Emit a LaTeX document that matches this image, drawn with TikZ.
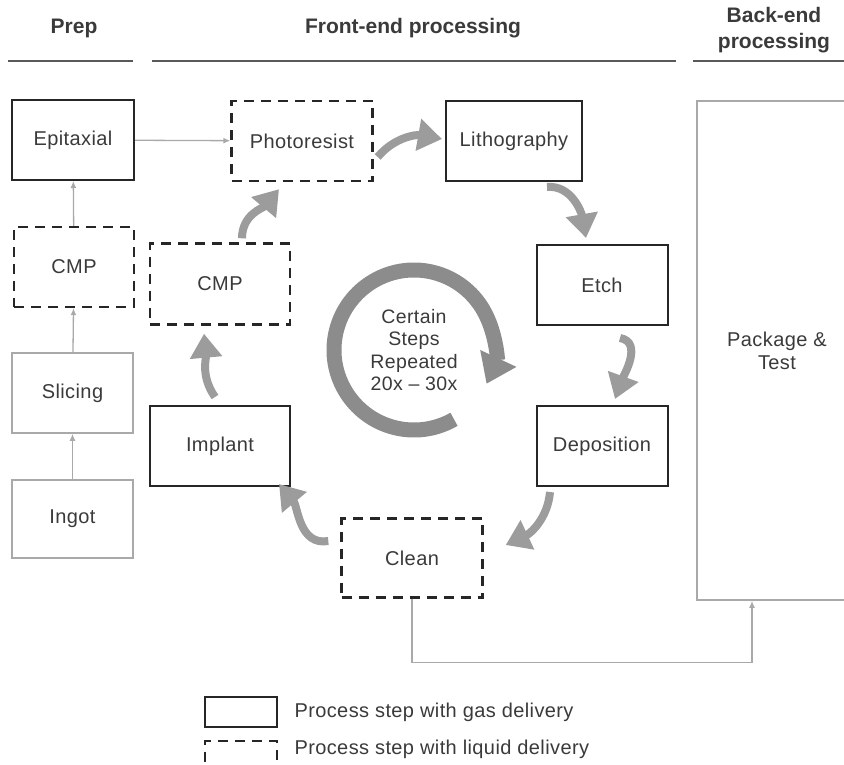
\documentclass[tikz,border=0pt]{standalone}
\usepackage{fontspec}
\setmainfont{Liberation Sans}
\usetikzlibrary{arrows.meta,calc}
\definecolor{boxdark}{HTML}{262626}
\definecolor{linegray}{HTML}{a9a9a9}
\definecolor{swooshgray}{HTML}{9c9c9c}
\definecolor{ringgray}{HTML}{8c8c8c}
\definecolor{textgray}{HTML}{3a3a3a}
\definecolor{rulegray}{HTML}{5a5a5a}

\begin{document}
\begin{tikzpicture}[x=1pt,y=1pt,
    gas/.style={draw=boxdark, line width=2pt, minimum width=140pt, minimum height=80pt,
      text=textgray, font=\fontsize{20}{23}\selectfont\addfontfeatures{LetterSpace=2}, align=center},
    liquid/.style={gas, dash pattern=on 10pt off 7pt, line width=2.4pt},
    plainbox/.style={gas, draw=linegray, line width=1.5pt},
    flow/.style={draw=linegray, line width=1.3pt, -{Latex[length=7pt,width=6pt]}},
    swoosh/.style={draw=swooshgray, line width=8pt, -{Triangle[length=24pt,width=31pt]}},
    headtext/.style={text=textgray, font=\bfseries\fontsize{21}{26}\selectfont, align=center},
    keytext/.style={text=textgray, font=\fontsize{20}{23}\selectfont\addfontfeatures{LetterSpace=2}, anchor=west}]
  \useasboundingbox (0,0) rectangle (844,-765);
  \clip (0,0) rectangle (844,-765);

  % Column headings and rules
  \node[headtext] (prephead) at (74,-28) {Prep};
  \node[headtext] (fronthead) at (413,-28) {Front-end processing};
  \node[headtext] (backhead) at (774,-30) {Back-end\\processing};
  \draw[rulegray, line width=2.5pt] (8,-61) -- (133,-61);
  \draw[rulegray, line width=2.5pt] (152,-61) -- (676,-61);
  \draw[rulegray, line width=2.5pt] (693,-61) -- (850,-61);

  % Prep column
  \node[gas, minimum width=122pt] (epi) at (73,-140) {Epitaxial};
  \node[liquid, minimum width=120pt] (cmpA) at (74,-267) {CMP};
  \node[plainbox, minimum width=121pt] (slice) at (72.5,-393) {Slicing};
  \node[plainbox, minimum width=121pt, minimum height=78pt] (ingot) at (72.5,-519) {Ingot};
  \draw[flow] (ingot) -- (slice);
  \draw[flow] (slice) -- (cmpA);
  \draw[flow] (cmpA) -- (epi);

  % Front-end loop
  \node[liquid, minimum width=141pt] (photo) at (302,-141) {Photoresist};
  \node[gas, minimum width=136pt] (litho) at (514,-141) {Lithography};
  \node[gas, minimum width=131pt] (etch) at (602,-285) {Etch};
  \node[gas, minimum width=131pt] (depo) at (602,-446) {Deposition};
  \node[liquid, minimum width=141pt, minimum height=79pt] (clean) at (412,-558) {Clean};
  \node[gas, minimum width=140pt] (implant) at (220,-446) {Implant};
  \node[liquid, minimum width=140pt, minimum height=81pt] (cmpB) at (220,-284) {CMP};
  \draw[flow] (epi) -- (photo);

  % Curved arrows between the steps
  \draw[swoosh] ([shift={(4,-16)}]photo.east) to[out=50, in=170] ([shift={(-3,2)}]litho.west);
  \draw[swoosh] ([shift={(33,-5)}]litho.south) to[out=5, in=100] ([shift={(-16,6)}]etch.north);
  \draw[swoosh] ([shift={(18,-12)}]etch.south) to[out=-10, in=70] ([shift={(13,6)}]depo.north);
  \draw[swoosh] ([shift={(-52,-5)}]depo.south) to[out=-95, in=25] ([shift={(22,13)}]clean.east);
  \draw[swoosh] ([shift={(-12,17)}]clean.west) to[out=190, in=-50] ([shift={(-12,3)}]implant.south east);
  \draw[swoosh] ([shift={(-5,8)}]implant.north) to[out=125, in=-85] ([shift={(-16,-8)}]cmpB.south);
  \draw[swoosh] ([shift={(22,4)}]cmpB.north) to[out=90, in=-130] ([shift={(-23,-7)}]photo.south);

  % Repeat ring
  \coordinate (ringc) at (414,-350);
  \draw[ringgray, line width=15pt, -{Triangle[length=28pt,width=38pt]}]
    ($(ringc)+(-60:80)$) arc[start angle=-60, end angle=-385, radius=80];
  \node[text=textgray, font=\fontsize{19.5}{22.5}\selectfont\addfontfeatures{LetterSpace=2}, align=center] (ringtext) at (ringc) {Certain\\Steps\\Repeated\\20x -- 30x};

  % Back-end
  \node[plainbox, minimum width=160pt, minimum height=499pt] (pack) at (777,-350.5) {Package \&\\Test};
  \draw[flow] (clean.south) -- ++(0,-64) -| ([xshift=-25pt]pack.south);

  % Key
  \node[gas, minimum width=72pt, minimum height=30pt] (keygas) at (241,-712) {};
  \node[keytext] (keygastext) at (291,-712) {Process step with gas delivery};
  \node[liquid, minimum width=72pt, minimum height=32pt] (keyliquid) at (241,-757) {};
  \node[keytext] (keyliquidtext) at (291,-749) {Process step with liquid delivery};
\end{tikzpicture}
\end{document}
